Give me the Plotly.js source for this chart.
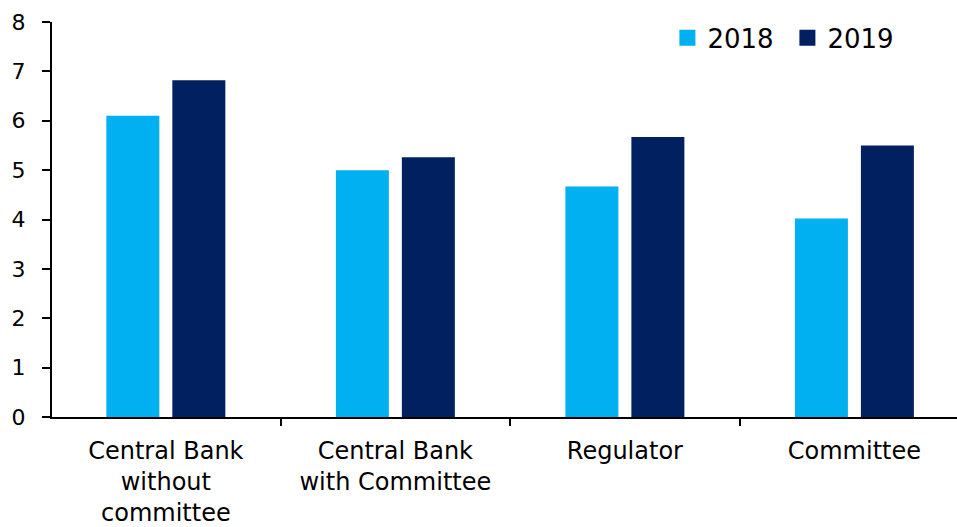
<!DOCTYPE html>
<html>
<head>
<meta charset="utf-8">
<script src="https://cdn.plot.ly/plotly-3.0.1.min.js"></script>
<style>html,body{margin:0;padding:0;background:#fff;}#chart{width:957px;height:527px;}</style>
</head>
<body>
<div id="chart"></div>
<script>
const categories = ["Central Bank<br>without<br>committee", "Central Bank<br>with Committee", "Regulator", "Committee"];
const seriesNames = ["2018", "2019"];
const values2018 = [6.1, 5.0, 4.67, 4.02];
const values2019 = [6.82, 5.26, 5.67, 5.5];
const yTicks = [0, 1, 2, 3, 4, 5, 6, 7, 8];
const colors = ["#00B0F0", "#002060"];

const fam = "DejaVu Sans, Verdana, sans-serif";
const tickFont = {family: fam, size: 22, color: "#000"};
const catFont = {family: fam, size: 24, color: "#000"};
const legFont = {family: fam, size: 26, color: "#000"};

const traces = [
  {type: "bar", name: seriesNames[0], x: categories, y: values2018, marker: {color: colors[0]}, showlegend: false},
  {type: "bar", name: seriesNames[1], x: categories, y: values2019, marker: {color: colors[1]}, showlegend: false},
  {type: "scatter", mode: "markers", name: seriesNames[0], x: [null], y: [null],
   marker: {symbol: "square", size: 16, color: colors[0]}, showlegend: true},
  {type: "scatter", mode: "markers", name: seriesNames[1], x: [null], y: [null],
   marker: {symbol: "square", size: 16, color: colors[1]}, showlegend: true}
];

const layout = {
  width: 957, height: 527,
  margin: {l: 52, r: 0, t: 22, b: 110},
  paper_bgcolor: "#fff", plot_bgcolor: "#fff",
  font: tickFont,
  barmode: "group",
  bargap: 0.425,
  bargroupgap: 0.197,
  showlegend: true,
  legend: {orientation: "h", x: 0.680, xanchor: "left", y: 0.96, yanchor: "middle",
           font: legFont, bgcolor: "rgba(0,0,0,0)", itemwidth: 30, tracegroupgap: 0,
           entrywidth: 75, entrywidthmode: "pixels"},
  xaxis: {type: "category", range: [-0.496, 3.447], showline: true, linecolor: "#000", linewidth: 2,
          ticks: "outside", tickson: "boundaries", ticklen: 7, tickwidth: 2, tickcolor: "#000",
          showgrid: false, zeroline: false, tickfont: catFont, ticklabelstandoff: 11, fixedrange: true},
  yaxis: {range: [0, 8], tickvals: yTicks, ticktext: yTicks.map(String), showline: true,
          linecolor: "#000", linewidth: 2, ticks: "outside", ticklen: 8, tickwidth: 2, tickcolor: "#000",
          showgrid: false, zeroline: false, tickfont: tickFont, ticklabelstandoff: 12}
};

Plotly.newPlot("chart", traces, layout, {displayModeBar: false, staticPlot: true});
</script>
</body>
</html>
